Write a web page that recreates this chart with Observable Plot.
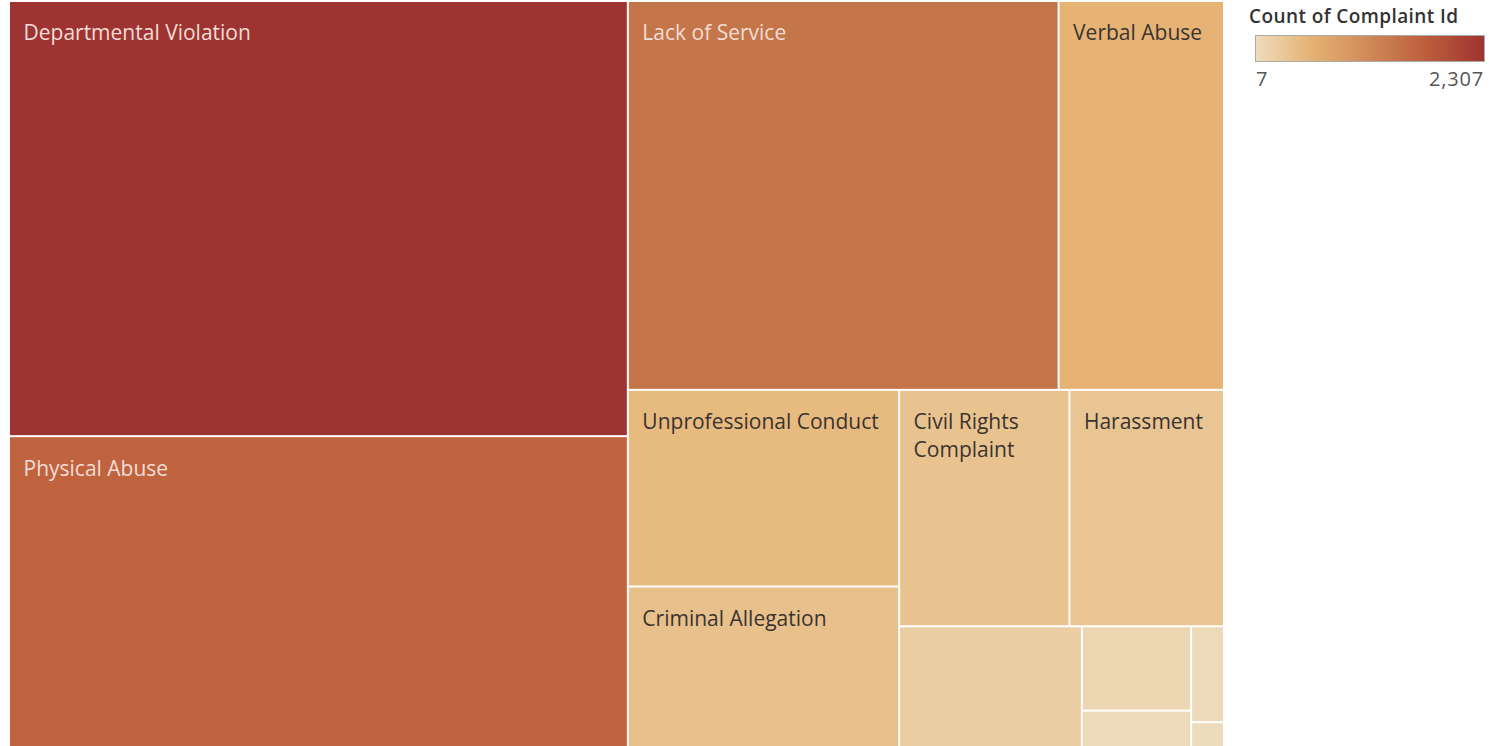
<!DOCTYPE html>
<html><head><meta charset="utf-8">
<script src="https://cdn.jsdelivr.net/npm/d3@7"></script>
<script src="https://cdn.jsdelivr.net/npm/@observablehq/plot@0.6"></script>
<style>
body{margin:0;background:#fff;font-family:"Open Sans",Lato,sans-serif;}
#wrap{position:relative;width:1491px;height:746px;overflow:hidden}
#chart{position:absolute;left:0;top:0}
#ltitle{position:absolute;left:1249px;top:3px;font-size:19px;font-weight:600;color:#333;white-space:nowrap;letter-spacing:0.4px}
#lbar{position:absolute;left:1255px;top:35px;width:228px;height:25px;border:1px solid #aaa}
#lmin{position:absolute;left:1256px;top:65px;font-size:20px;color:#555}
#lmax{position:absolute;right:7px;top:65px;font-size:20px;color:#555;letter-spacing:0.8px}
</style></head><body>
<div id="wrap"><div id="chart"></div>
<div id="ltitle"></div><div id="lbar"></div><div id="lmin"></div><div id="lmax"></div></div>
<script>
// ---- data ----
const categories = ["Departmental Violation","Physical Abuse","Lack of Service","Verbal Abuse",
  "Unprofessional Conduct","Criminal Allegation","Civil Rights Complaint","Harassment",
  "Sexual Crime/Misconduct","Domestic","Falsification","Drugs","Other Misconduct"];
const counts = [2307,1648,1435,551,457,373,345,313,189,79,34,27,7];
const colorDomain = [7,551,1435,1648,2307];
const colorRange = ["#eddcbc","#e6b374","#c4754a","#c0633f","#9e3431"];
const legendTitle = "Count of Complaint Id";
const legendLabels = ["7","2,307"];

// ---- layout ----
const W = 1213, H = 744;
const root = d3.hierarchy({children: categories.map((c,i)=>({name:c, value:counts[i]}))})
  .sum(d => d.value || 0).sort((a,b) => b.value - a.value);
d3.treemap().size([W,H]).tile(d3.treemapSquarify)(root);
const cells = root.leaves().map(d => ({name:d.data.name, value:d.value, x0:d.x0, x1:d.x1, y0:d.y0, y1:d.y1}));

const FS = 21;
const ctx = document.createElement("canvas").getContext("2d");
ctx.font = FS + "px 'Open Sans'";
function fitLabel(c){
  const avail = (c.x1 - c.x0) - 24;
  const words = c.name.split(" ");
  const lines = []; let cur = "";
  for (const w of words){
    if (ctx.measureText(w).width > avail) return "";
    const t = cur ? cur + " " + w : w;
    if (ctx.measureText(t).width <= avail) cur = t; else { lines.push(cur); cur = w; }
  }
  if (cur) lines.push(cur);
  if (20 + lines.length*28 > (c.y1 - c.y0)) return "";
  return lines.join("\n");
}
cells.forEach(c => c.label = fitLabel(c));

const cs = Plot.scale({color:{type:"linear", domain:colorDomain, range:colorRange}});
const textFill = d => d3.lab(cs.apply(d.value)).l < 62 ? "#f2ddd6" : "#3a3330";

const chart = Plot.plot({
  width: 1230, height: 746,
  x: {domain:[0,W], range:[9,1224], axis:null},
  y: {domain:[0,H], range:[1,747], axis:null},
  color: {type:"linear", domain:colorDomain, range:colorRange},
  style: {fontFamily:"'Open Sans', sans-serif", background:"#fff"},
  marks: [
    Plot.rect(cells, {x1:"x0", x2:"x1", y1:"y0", y2:"y1", fill:"value", inset:1}),
    Plot.text(cells.filter(c=>c.label), {x:"x0", y:"y0", text:"label", dx:14, dy:19,
      lineAnchor:"top", textAnchor:"start", fontSize:FS, lineHeight:28/FS, fill:textFill})
  ]
});
document.getElementById("chart").append(chart);

// ---- legend ----
document.getElementById("ltitle").textContent = legendTitle;
const stops = d3.range(0, 1.0001, 0.05).map(t => {
  const v = colorDomain[0] + t*(colorDomain[colorDomain.length-1]-colorDomain[0]);
  return cs.apply(v) + " " + (t*100) + "%";
});
document.getElementById("lbar").style.background = "linear-gradient(to right," + stops.join(",") + ")";
document.getElementById("lmin").textContent = legendLabels[0];
document.getElementById("lmax").textContent = legendLabels[1];
</script>
</body></html>
